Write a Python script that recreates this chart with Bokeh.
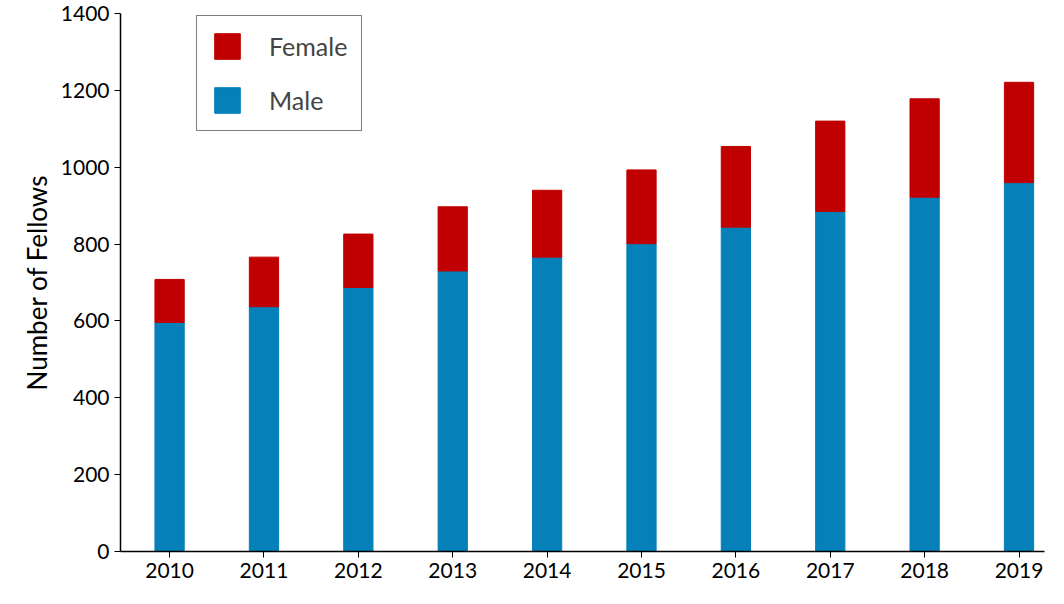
from bokeh.plotting import figure
from bokeh.models import ColumnDataSource, Range1d, FixedTicker, Legend, LegendItem
from bokeh.embed import file_html
from bokeh.resources import INLINE

years = ["2010","2011","2012","2013","2014","2015","2016","2017","2018","2019"]
male = [596, 637, 687, 730, 766, 801, 844, 885, 922, 960]
female = [112, 129, 139, 167, 174, 192, 210, 235, 256, 261]

x = list(range(len(years)))
src = ColumnDataSource(dict(x=x, male=male, female=female,
                            total=[m + f for m, f in zip(male, female)]))

p = figure(width=1048, height=588, output_backend="svg", toolbar_location=None,
           x_range=Range1d(-0.52, 9.27), y_range=Range1d(0, 1400),
           min_border_left=120, min_border_right=4, min_border_top=13, min_border_bottom=37)
p.outline_line_color = None
p.grid.visible = False

rm = p.vbar(x="x", width=0.31, bottom=0, top="male", source=src, color="#0580b8")
rf = p.vbar(x="x", width=0.31, bottom="male", top="total", source=src, color="#c00000")

p.xaxis.ticker = FixedTicker(ticks=x)
p.xaxis.major_label_overrides = {float(i): y for i, y in enumerate(years)}
p.yaxis.ticker = FixedTicker(ticks=list(range(0, 1401, 200)))
p.yaxis.axis_label = "Number of Fellows"
for ax in (p.xaxis, p.yaxis):
    ax.axis_line_color = "black"
    ax.axis_line_width = 1.5
    ax.major_tick_line_color = "black"
    ax.major_tick_in = 0
    ax.major_tick_out = 6
    ax.minor_tick_line_color = None
    ax.major_label_text_font = "Lato"
    ax.major_label_text_font_size = "21px"
    ax.major_label_text_color = "black"
p.yaxis.axis_label_text_font = "Lato"
p.yaxis.axis_label_text_font_size = "26px"
p.yaxis.axis_label_text_font_style = "normal"
p.yaxis.axis_label_text_color = "black"

legend = Legend(items=[LegendItem(label="Female", renderers=[rf]),
                       LegendItem(label="Male", renderers=[rm])],
                location=(76, 420))
legend.label_text_font = "Lato"
legend.label_text_font_size = "25px"
legend.glyph_width = 32
legend.glyph_height = 32
legend.spacing = 22
legend.padding = 14
legend.margin = 0
legend.label_standoff = 26
legend.border_line_color = "black"
legend.border_line_width = 1.5
p.add_layout(legend)

open("out.html", "w").write(file_html(p, INLINE))
